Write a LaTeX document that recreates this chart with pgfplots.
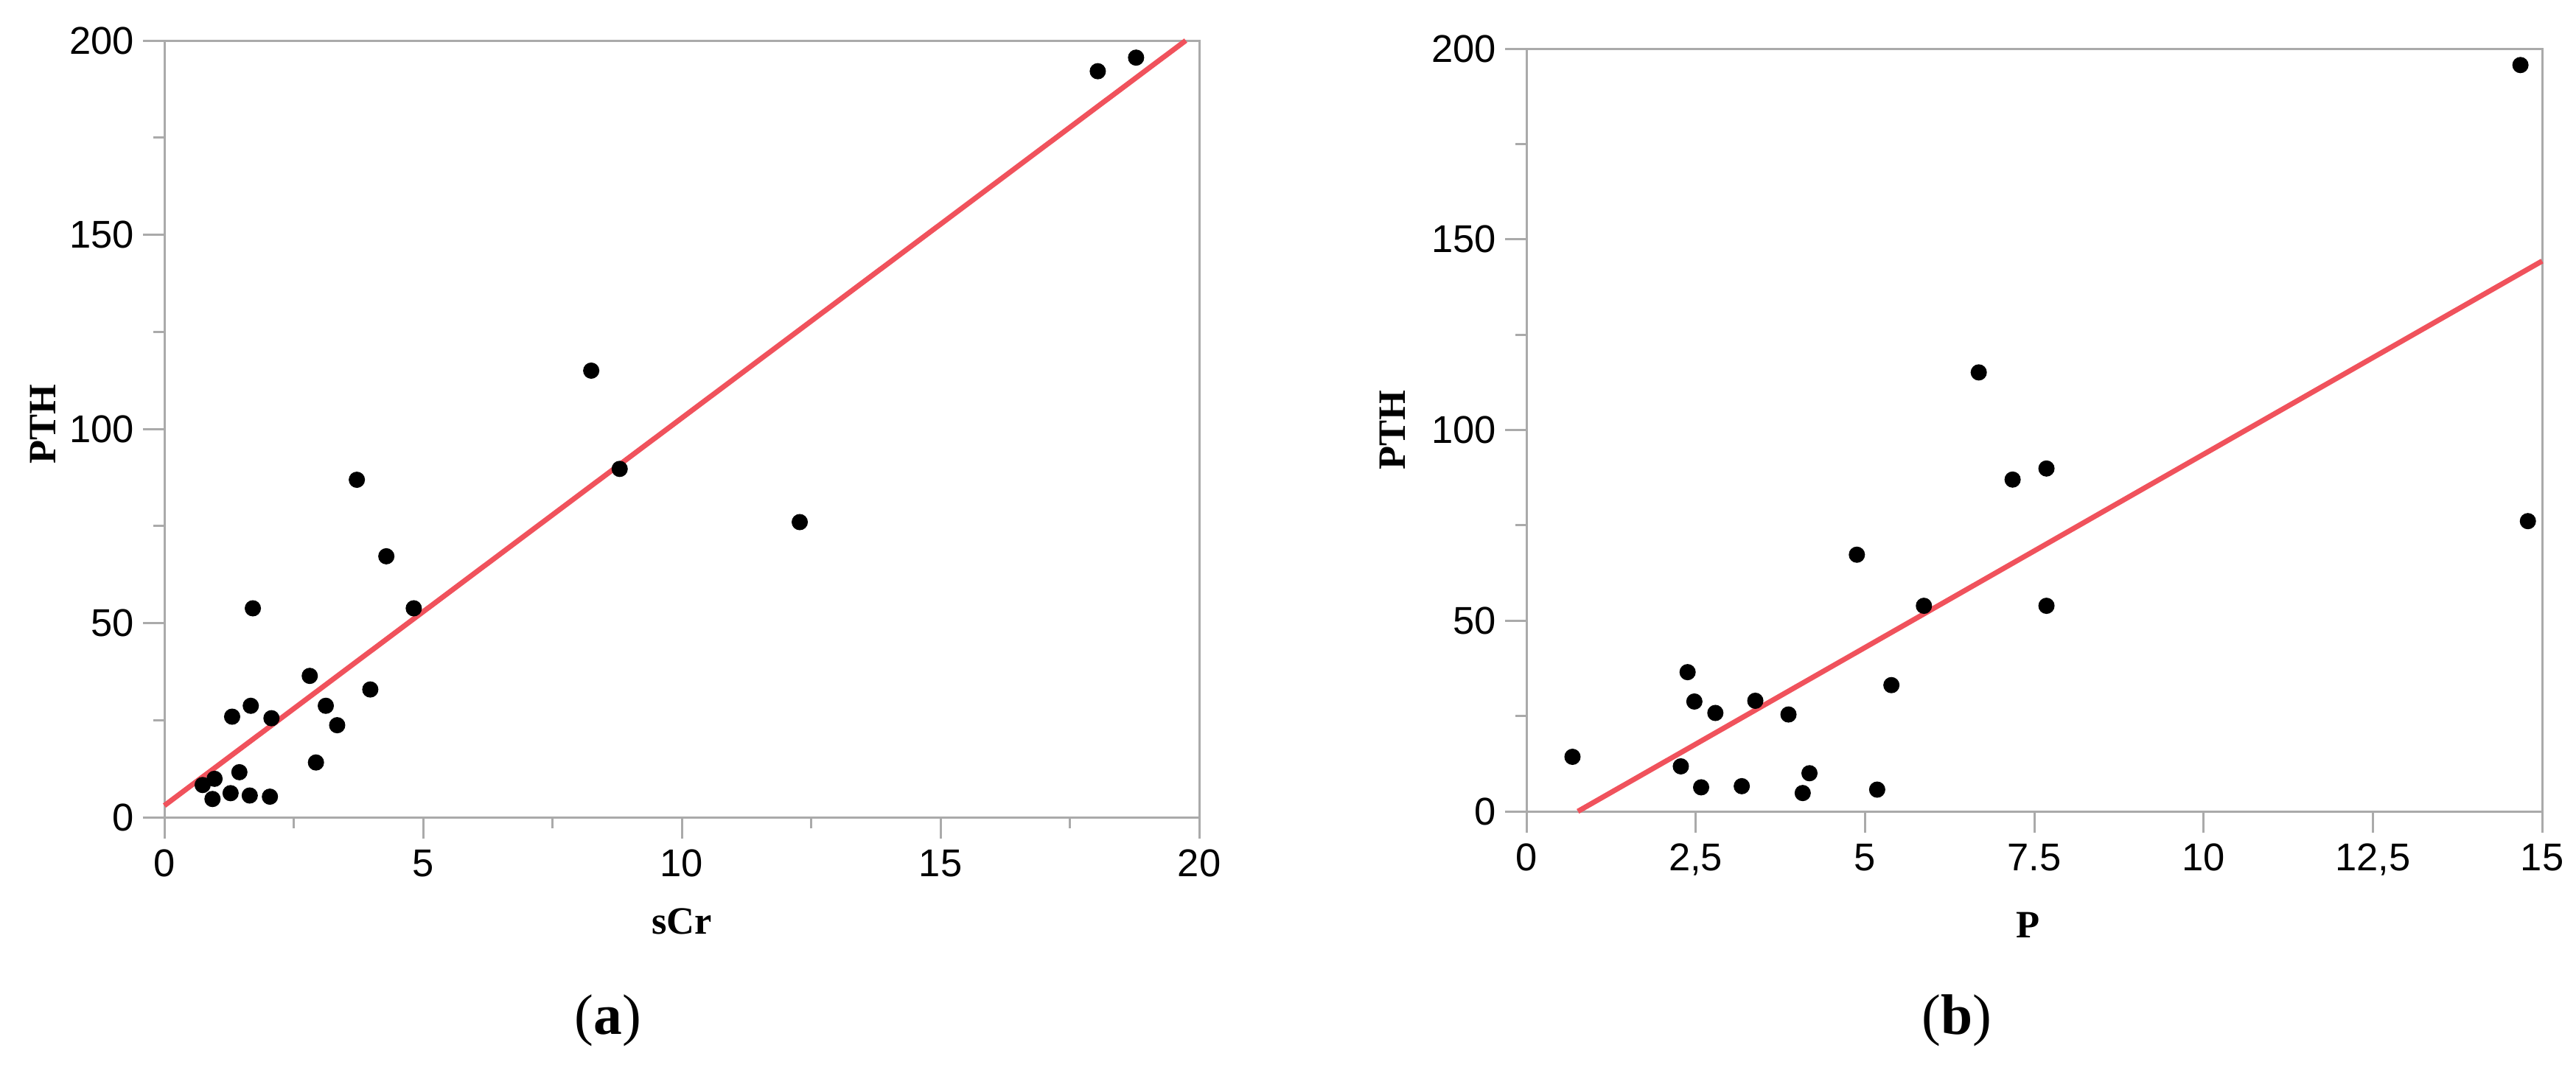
\documentclass[border=0pt]{standalone}
\usepackage{pgfplots}
\pgfplotsset{compat=1.18}
\usepackage{fontspec}
\setmainfont{Liberation Serif}
\newfontfamily\ticksf{Liberation Sans}
\definecolor{axgray}{RGB}{170,170,170}
\definecolor{fitred}{RGB}{240,82,92}
\pgfplotsset{
  myax/.style={
    scale only axis,
    anchor=south west,
    axis line style={axgray, line width=0.6pt},
    every tick/.style={axgray, line width=0.6pt},
    tick align=outside,
    major tick length=5.8pt,
    minor tick length=3pt,
    xtick pos=lower, ytick pos=left,
    ymin=0, ymax=200,
    ytick={0,50,100,150,200},
    minor ytick={25,75,125,175},
    /pgf/number format/assume math mode=true,
    tick label style={font=\ticksf\fontsize{10.5}{12}\selectfont, text=black},
    yticklabel style={inner sep=0pt, xshift=-2.2pt},
    xticklabel style={inner sep=0pt, yshift=-2.8pt},
    label style={font=\bfseries\fontsize{10.5}{12}\selectfont},
    clip=false,
  }
}
\begin{document}
\begin{tikzpicture}
\useasboundingbox (0,0) rectangle (699pt,290.2pt);
% ---------- (a) ----------
\begin{axis}[myax,
  at={(44.6pt,68.4pt)}, width=280.8pt, height=210.8pt,
  xmin=0, xmax=20,
  xtick={0,5,10,15,20},
  minor xtick={2.5,7.5,12.5,17.5},
  xlabel={sCr}, ylabel={PTH},
  xlabel style={at={(axis description cs:0.5,-0.134)}, anchor=center},
  ylabel style={at={(axis description cs:-0.1175,0.506)}, anchor=center},
]
\addplot[fitred, line width=1.4pt] coordinates {(0,3) (19.74,200)};
\addplot[only marks, mark=*, mark size=2pt, black] table {
x y
18.04 192.1
18.78 195.6
8.25 115.0
8.80 89.7
12.28 76.0
3.72 86.9
4.29 67.2
4.82 53.8
1.71 53.8
2.81 36.4
3.98 32.9
1.67 28.7
3.12 28.7
1.31 25.9
2.07 25.5
3.34 23.7
2.93 14.1
1.45 11.6
0.97 9.9
0.74 8.3
0.93 4.7
1.28 6.2
1.65 5.6
2.04 5.3
};
\end{axis}
% ---------- (b) ----------
\begin{axis}[myax,
  at={(414.2pt,70pt)}, width=275.6pt, height=207pt,
  xmin=0, xmax=15,
  xtick={0,2.5,5,7.5,10,12.5,15},
  xticklabels={0,{2,5},5,7.5,10,{12,5},15},
  xlabel={P}, ylabel={PTH},
  xlabel style={at={(axis description cs:0.494,-0.149)}, anchor=center},
  ylabel style={at={(axis description cs:-0.132,0.5)}, anchor=center},
]
\addplot[fitred, line width=1.4pt] coordinates {(0.76,0) (15,144.3)};
\addplot[only marks, mark=*, mark size=2pt, black] table {
x y
14.68 195.7
14.79 76.1
6.68 115.1
7.18 87.0
7.68 89.9
7.68 53.9
4.88 67.3
5.87 53.9
5.39 33.1
2.38 36.5
2.48 28.8
2.79 25.8
3.38 29.0
3.87 25.4
0.68 14.3
2.28 11.8
2.58 6.3
3.18 6.6
4.18 10.0
4.08 4.8
5.18 5.7
};
\end{axis}
\node[font=\fontsize{15.5}{18}\selectfont] at (165pt,13.2pt) {(\textbf{a})};
\node[font=\fontsize{15.5}{18}\selectfont] at (531pt,13.2pt) {(\textbf{b})};
\end{tikzpicture}
\end{document}
